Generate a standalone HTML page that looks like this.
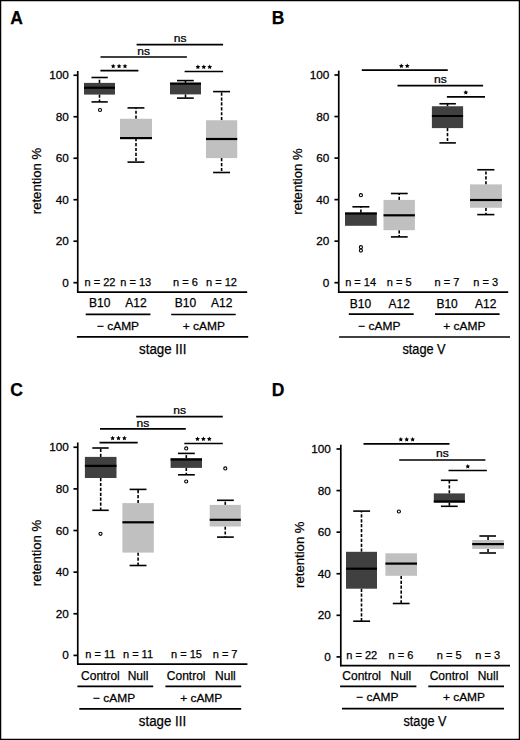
<!DOCTYPE html>
<html><head><meta charset="utf-8"><style>
html,body{margin:0;padding:0;background:#fff;}
svg{display:block;}
</style></head><body>
<svg width="520" height="740" viewBox="0 0 520 740" font-family='"Liberation Sans", sans-serif' fill="#000" stroke="#000">
<rect x="0" y="0" width="520" height="740" fill="#fff" stroke="none"/>
<g stroke="#000" fill="#000">
<g stroke="none">
</g>
<text stroke="#000" stroke-width="0.25" x="10.30" y="23.80" font-size="17.5" font-weight="bold">A</text>
<line x1="77.75" y1="71.00" x2="77.75" y2="292.75" stroke-width="1.7"/>
<line x1="73.45" y1="282.70" x2="77.75" y2="282.70" stroke-width="1.7"/>
<text stroke="#000" stroke-width="0.25" transform="translate(68.80,286.70) scale(1.07,1)" font-size="11" text-anchor="end">0</text>
<line x1="73.45" y1="241.21" x2="77.75" y2="241.21" stroke-width="1.7"/>
<text stroke="#000" stroke-width="0.25" transform="translate(68.80,245.21) scale(1.07,1)" font-size="11" text-anchor="end">20</text>
<line x1="73.45" y1="199.72" x2="77.75" y2="199.72" stroke-width="1.7"/>
<text stroke="#000" stroke-width="0.25" transform="translate(68.80,203.72) scale(1.07,1)" font-size="11" text-anchor="end">40</text>
<line x1="73.45" y1="158.23" x2="77.75" y2="158.23" stroke-width="1.7"/>
<text stroke="#000" stroke-width="0.25" transform="translate(68.80,162.23) scale(1.07,1)" font-size="11" text-anchor="end">60</text>
<line x1="73.45" y1="116.74" x2="77.75" y2="116.74" stroke-width="1.7"/>
<text stroke="#000" stroke-width="0.25" transform="translate(68.80,120.74) scale(1.07,1)" font-size="11" text-anchor="end">80</text>
<line x1="73.45" y1="75.25" x2="77.75" y2="75.25" stroke-width="1.7"/>
<text stroke="#000" stroke-width="0.25" transform="translate(68.80,79.25) scale(1.07,1)" font-size="11" text-anchor="end">100</text>
<text stroke="#000" stroke-width="0.25" transform="translate(40.80,181.00) rotate(-90)" font-size="13" text-anchor="middle" textLength="66.5" lengthAdjust="spacingAndGlyphs">retention %</text>
<line x1="77.00" y1="292.20" x2="247.20" y2="292.20" stroke-width="1.7"/>
<line x1="99.50" y1="82.90" x2="99.50" y2="77.50" stroke-width="1.6" stroke-dasharray="3.2 1.7"/>
<line x1="99.50" y1="94.60" x2="99.50" y2="101.90" stroke-width="1.6" stroke-dasharray="3.2 1.7"/>
<rect x="84.00" y="82.90" width="31.00" height="11.70" fill="#404040" stroke="none"/>
<line x1="84.00" y1="87.75" x2="115.00" y2="87.75" stroke-width="2.2"/>
<line x1="91.50" y1="77.50" x2="107.75" y2="77.50" stroke-width="1.6"/>
<line x1="91.50" y1="101.90" x2="107.75" y2="101.90" stroke-width="1.6"/>
<circle cx="100.00" cy="110.00" r="1.55" fill="none" stroke-width="1.1"/>
<line x1="136.00" y1="118.75" x2="136.00" y2="107.90" stroke-width="1.6" stroke-dasharray="3.2 1.7"/>
<line x1="136.00" y1="138.10" x2="136.00" y2="162.10" stroke-width="1.6" stroke-dasharray="3.2 1.7"/>
<rect x="120.00" y="118.75" width="32.00" height="19.35" fill="#c0c0c0" stroke="none"/>
<line x1="120.00" y1="138.10" x2="152.00" y2="138.10" stroke-width="2.2"/>
<line x1="127.50" y1="107.90" x2="144.40" y2="107.90" stroke-width="1.6"/>
<line x1="127.50" y1="162.10" x2="144.40" y2="162.10" stroke-width="1.6"/>
<line x1="185.50" y1="82.90" x2="185.50" y2="80.60" stroke-width="1.6" stroke-dasharray="3.2 1.7"/>
<line x1="185.50" y1="94.40" x2="185.50" y2="98.10" stroke-width="1.6" stroke-dasharray="3.2 1.7"/>
<rect x="170.00" y="82.90" width="31.00" height="11.50" fill="#404040" stroke="none"/>
<line x1="170.00" y1="83.60" x2="201.00" y2="83.60" stroke-width="2.2"/>
<line x1="177.00" y1="80.60" x2="193.75" y2="80.60" stroke-width="1.6"/>
<line x1="177.00" y1="98.10" x2="193.75" y2="98.10" stroke-width="1.6"/>
<line x1="221.62" y1="120.25" x2="221.62" y2="91.60" stroke-width="1.6" stroke-dasharray="3.2 1.7"/>
<line x1="221.62" y1="158.10" x2="221.62" y2="172.50" stroke-width="1.6" stroke-dasharray="3.2 1.7"/>
<rect x="206.00" y="120.25" width="31.25" height="37.85" fill="#c0c0c0" stroke="none"/>
<line x1="206.00" y1="139.00" x2="237.25" y2="139.00" stroke-width="2.2"/>
<line x1="213.10" y1="91.60" x2="230.00" y2="91.60" stroke-width="1.6"/>
<line x1="213.10" y1="172.50" x2="230.00" y2="172.50" stroke-width="1.6"/>
<line x1="100.40" y1="70.70" x2="138.40" y2="70.70" stroke-width="1.7"/>
<polygon points="113.20,63.70 113.93,65.19 115.58,65.43 114.39,66.59 114.67,68.22 113.20,67.45 111.73,68.22 112.01,66.59 110.82,65.43 112.47,65.19" fill="#000" stroke="none"/>
<polygon points="119.10,63.70 119.83,65.19 121.48,65.43 120.29,66.59 120.57,68.22 119.10,67.45 117.63,68.22 117.91,66.59 116.72,65.43 118.37,65.19" fill="#000" stroke="none"/>
<polygon points="125.00,63.70 125.73,65.19 127.38,65.43 126.19,66.59 126.47,68.22 125.00,67.45 123.53,68.22 123.81,66.59 122.62,65.43 124.27,65.19" fill="#000" stroke="none"/>
<line x1="184.60" y1="71.50" x2="223.10" y2="71.50" stroke-width="1.7"/>
<polygon points="197.90,64.50 198.63,65.99 200.28,66.23 199.09,67.39 199.37,69.02 197.90,68.25 196.43,69.02 196.71,67.39 195.52,66.23 197.17,65.99" fill="#000" stroke="none"/>
<polygon points="203.80,64.50 204.53,65.99 206.18,66.23 204.99,67.39 205.27,69.02 203.80,68.25 202.33,69.02 202.61,67.39 201.42,66.23 203.07,65.99" fill="#000" stroke="none"/>
<polygon points="209.70,64.50 210.43,65.99 212.08,66.23 210.89,67.39 211.17,69.02 209.70,68.25 208.23,69.02 208.51,67.39 207.32,66.23 208.97,65.99" fill="#000" stroke="none"/>
<line x1="100.50" y1="57.00" x2="186.90" y2="57.00" stroke-width="1.7"/>
<text stroke="#000" stroke-width="0.25" transform="translate(143.70,55.00) scale(1.1,1)" font-size="11" text-anchor="middle">ns</text>
<line x1="136.60" y1="44.70" x2="223.10" y2="44.70" stroke-width="1.7"/>
<text stroke="#000" stroke-width="0.25" transform="translate(180.20,42.20) scale(1.1,1)" font-size="11" text-anchor="middle">ns</text>
<text stroke="#000" stroke-width="0.25" x="100.00" y="286.00" font-size="11" text-anchor="middle">n = 22</text>
<text stroke="#000" stroke-width="0.25" x="135.70" y="286.00" font-size="11" text-anchor="middle">n = 13</text>
<text stroke="#000" stroke-width="0.25" x="185.50" y="286.00" font-size="11" text-anchor="middle">n = 6</text>
<text stroke="#000" stroke-width="0.25" x="221.50" y="286.00" font-size="11" text-anchor="middle">n = 12</text>
<text stroke="#000" stroke-width="0.25" x="99.65" y="307.20" font-size="12" text-anchor="middle">B10</text>
<text stroke="#000" stroke-width="0.25" x="136.00" y="307.20" font-size="12" text-anchor="middle">A12</text>
<text stroke="#000" stroke-width="0.25" x="185.50" y="307.20" font-size="12" text-anchor="middle">B10</text>
<text stroke="#000" stroke-width="0.25" x="221.75" y="307.20" font-size="12" text-anchor="middle">A12</text>
<line x1="85.70" y1="314.30" x2="150.40" y2="314.30" stroke-width="1.7"/>
<line x1="171.20" y1="314.50" x2="235.70" y2="314.50" stroke-width="1.7"/>
<text stroke="#000" stroke-width="0.25" transform="translate(118.00,329.70) scale(1.04,1)" font-size="11.5" text-anchor="middle">− cAMP</text>
<text stroke="#000" stroke-width="0.25" transform="translate(203.80,329.70) scale(1.04,1)" font-size="11.5" text-anchor="middle">+ cAMP</text>
<line x1="76.90" y1="336.90" x2="248.20" y2="336.90" stroke-width="1.7"/>
<text stroke="#000" stroke-width="0.25" x="162.75" y="353.80" font-size="14" text-anchor="middle" textLength="47.50" lengthAdjust="spacingAndGlyphs">stage III</text>
<text stroke="#000" stroke-width="0.25" x="271.80" y="23.80" font-size="17.5" font-weight="bold">B</text>
<line x1="338.75" y1="70.60" x2="338.75" y2="292.95" stroke-width="1.7"/>
<line x1="334.45" y1="282.70" x2="338.75" y2="282.70" stroke-width="1.7"/>
<text stroke="#000" stroke-width="0.25" transform="translate(329.40,286.70) scale(1.07,1)" font-size="11" text-anchor="end">0</text>
<line x1="334.45" y1="241.16" x2="338.75" y2="241.16" stroke-width="1.7"/>
<text stroke="#000" stroke-width="0.25" transform="translate(329.40,245.16) scale(1.07,1)" font-size="11" text-anchor="end">20</text>
<line x1="334.45" y1="199.62" x2="338.75" y2="199.62" stroke-width="1.7"/>
<text stroke="#000" stroke-width="0.25" transform="translate(329.40,203.62) scale(1.07,1)" font-size="11" text-anchor="end">40</text>
<line x1="334.45" y1="158.08" x2="338.75" y2="158.08" stroke-width="1.7"/>
<text stroke="#000" stroke-width="0.25" transform="translate(329.40,162.08) scale(1.07,1)" font-size="11" text-anchor="end">60</text>
<line x1="334.45" y1="116.54" x2="338.75" y2="116.54" stroke-width="1.7"/>
<text stroke="#000" stroke-width="0.25" transform="translate(329.40,120.54) scale(1.07,1)" font-size="11" text-anchor="end">80</text>
<line x1="334.45" y1="75.00" x2="338.75" y2="75.00" stroke-width="1.7"/>
<text stroke="#000" stroke-width="0.25" transform="translate(329.40,79.00) scale(1.07,1)" font-size="11" text-anchor="end">100</text>
<text stroke="#000" stroke-width="0.25" transform="translate(301.80,181.50) rotate(-90)" font-size="13" text-anchor="middle" textLength="66.5" lengthAdjust="spacingAndGlyphs">retention %</text>
<line x1="338.00" y1="292.20" x2="508.20" y2="292.20" stroke-width="1.7"/>
<line x1="360.90" y1="212.70" x2="360.90" y2="206.80" stroke-width="1.6" stroke-dasharray="3.2 1.7"/>
<rect x="345.00" y="212.70" width="31.80" height="13.10" fill="#404040" stroke="none"/>
<line x1="345.00" y1="213.50" x2="376.80" y2="213.50" stroke-width="2.2"/>
<line x1="352.40" y1="206.80" x2="369.40" y2="206.80" stroke-width="1.6"/>
<circle cx="360.90" cy="195.20" r="1.55" fill="none" stroke-width="1.1"/>
<circle cx="360.90" cy="247.20" r="1.55" fill="none" stroke-width="1.1"/>
<circle cx="360.90" cy="250.60" r="1.55" fill="none" stroke-width="1.1"/>
<line x1="399.20" y1="199.90" x2="399.20" y2="193.50" stroke-width="1.6" stroke-dasharray="3.2 1.7"/>
<line x1="399.20" y1="230.20" x2="399.20" y2="236.90" stroke-width="1.6" stroke-dasharray="3.2 1.7"/>
<rect x="383.50" y="199.90" width="31.40" height="30.30" fill="#c0c0c0" stroke="none"/>
<line x1="383.50" y1="215.30" x2="414.90" y2="215.30" stroke-width="2.2"/>
<line x1="390.90" y1="193.50" x2="407.70" y2="193.50" stroke-width="1.6"/>
<line x1="390.90" y1="236.90" x2="407.70" y2="236.90" stroke-width="1.6"/>
<line x1="447.50" y1="106.25" x2="447.50" y2="103.75" stroke-width="1.6" stroke-dasharray="3.2 1.7"/>
<line x1="447.50" y1="128.10" x2="447.50" y2="142.90" stroke-width="1.6" stroke-dasharray="3.2 1.7"/>
<rect x="431.90" y="106.25" width="31.20" height="21.85" fill="#404040" stroke="none"/>
<line x1="431.90" y1="116.00" x2="463.10" y2="116.00" stroke-width="2.2"/>
<line x1="439.40" y1="103.75" x2="455.90" y2="103.75" stroke-width="1.6"/>
<line x1="439.40" y1="142.90" x2="455.90" y2="142.90" stroke-width="1.6"/>
<line x1="485.95" y1="184.40" x2="485.95" y2="169.75" stroke-width="1.6" stroke-dasharray="3.2 1.7"/>
<line x1="485.95" y1="207.75" x2="485.95" y2="214.60" stroke-width="1.6" stroke-dasharray="3.2 1.7"/>
<rect x="470.00" y="184.40" width="31.90" height="23.35" fill="#c0c0c0" stroke="none"/>
<line x1="470.00" y1="200.00" x2="501.90" y2="200.00" stroke-width="2.2"/>
<line x1="477.25" y1="169.75" x2="494.40" y2="169.75" stroke-width="1.6"/>
<line x1="477.25" y1="214.60" x2="494.40" y2="214.60" stroke-width="1.6"/>
<line x1="361.75" y1="70.20" x2="447.75" y2="70.20" stroke-width="1.7"/>
<polygon points="401.35,63.50 402.08,64.99 403.73,65.23 402.54,66.39 402.82,68.02 401.35,67.25 399.88,68.02 400.16,66.39 398.97,65.23 400.62,64.99" fill="#000" stroke="none"/>
<polygon points="407.25,63.50 407.98,64.99 409.63,65.23 408.44,66.39 408.72,68.02 407.25,67.25 405.78,68.02 406.06,66.39 404.87,65.23 406.52,64.99" fill="#000" stroke="none"/>
<line x1="397.50" y1="85.70" x2="483.10" y2="85.70" stroke-width="1.7"/>
<text stroke="#000" stroke-width="0.25" transform="translate(440.50,83.10) scale(1.1,1)" font-size="11" text-anchor="middle">ns</text>
<line x1="446.90" y1="96.80" x2="485.00" y2="96.80" stroke-width="1.7"/>
<polygon points="465.80,90.10 466.53,91.59 468.18,91.83 466.99,92.99 467.27,94.62 465.80,93.85 464.33,94.62 464.61,92.99 463.42,91.83 465.07,91.59" fill="#000" stroke="none"/>
<text stroke="#000" stroke-width="0.25" x="360.60" y="285.60" font-size="11" text-anchor="middle">n = 14</text>
<text stroke="#000" stroke-width="0.25" x="399.20" y="285.60" font-size="11" text-anchor="middle">n = 5</text>
<text stroke="#000" stroke-width="0.25" x="446.90" y="285.60" font-size="11" text-anchor="middle">n = 7</text>
<text stroke="#000" stroke-width="0.25" x="485.70" y="285.60" font-size="11" text-anchor="middle">n = 3</text>
<text stroke="#000" stroke-width="0.25" x="360.40" y="307.60" font-size="12" text-anchor="middle">B10</text>
<text stroke="#000" stroke-width="0.25" x="399.20" y="307.60" font-size="12" text-anchor="middle">A12</text>
<text stroke="#000" stroke-width="0.25" x="447.10" y="307.60" font-size="12" text-anchor="middle">B10</text>
<text stroke="#000" stroke-width="0.25" x="485.70" y="307.60" font-size="12" text-anchor="middle">A12</text>
<line x1="348.80" y1="314.20" x2="413.70" y2="314.20" stroke-width="1.7"/>
<line x1="435.00" y1="314.20" x2="499.60" y2="314.20" stroke-width="1.7"/>
<text stroke="#000" stroke-width="0.25" transform="translate(379.35,329.50) scale(1.04,1)" font-size="11.5" text-anchor="middle">− cAMP</text>
<text stroke="#000" stroke-width="0.25" transform="translate(464.30,329.50) scale(1.04,1)" font-size="11.5" text-anchor="middle">+ cAMP</text>
<line x1="339.10" y1="337.00" x2="510.00" y2="337.00" stroke-width="1.7"/>
<text stroke="#000" stroke-width="0.25" x="424.00" y="353.80" font-size="14" text-anchor="middle" textLength="43.20" lengthAdjust="spacingAndGlyphs">stage V</text>
<text stroke="#000" stroke-width="0.25" x="10.30" y="396.00" font-size="17.5" font-weight="bold">C</text>
<line x1="77.75" y1="442.50" x2="77.75" y2="664.35" stroke-width="1.7"/>
<line x1="73.45" y1="655.40" x2="77.75" y2="655.40" stroke-width="1.7"/>
<text stroke="#000" stroke-width="0.25" transform="translate(68.80,659.40) scale(1.07,1)" font-size="11" text-anchor="end">0</text>
<line x1="73.45" y1="613.77" x2="77.75" y2="613.77" stroke-width="1.7"/>
<text stroke="#000" stroke-width="0.25" transform="translate(68.80,617.77) scale(1.07,1)" font-size="11" text-anchor="end">20</text>
<line x1="73.45" y1="572.14" x2="77.75" y2="572.14" stroke-width="1.7"/>
<text stroke="#000" stroke-width="0.25" transform="translate(68.80,576.14) scale(1.07,1)" font-size="11" text-anchor="end">40</text>
<line x1="73.45" y1="530.51" x2="77.75" y2="530.51" stroke-width="1.7"/>
<text stroke="#000" stroke-width="0.25" transform="translate(68.80,534.51) scale(1.07,1)" font-size="11" text-anchor="end">60</text>
<line x1="73.45" y1="488.88" x2="77.75" y2="488.88" stroke-width="1.7"/>
<text stroke="#000" stroke-width="0.25" transform="translate(68.80,492.88) scale(1.07,1)" font-size="11" text-anchor="end">80</text>
<line x1="73.45" y1="447.25" x2="77.75" y2="447.25" stroke-width="1.7"/>
<text stroke="#000" stroke-width="0.25" transform="translate(68.80,451.25) scale(1.07,1)" font-size="11" text-anchor="end">100</text>
<text stroke="#000" stroke-width="0.25" transform="translate(40.80,553.00) rotate(-90)" font-size="13" text-anchor="middle" textLength="66.5" lengthAdjust="spacingAndGlyphs">retention %</text>
<line x1="77.00" y1="664.10" x2="247.40" y2="664.10" stroke-width="1.7"/>
<line x1="100.70" y1="456.90" x2="100.70" y2="448.00" stroke-width="1.6" stroke-dasharray="3.2 1.7"/>
<line x1="100.70" y1="478.00" x2="100.70" y2="510.30" stroke-width="1.6" stroke-dasharray="3.2 1.7"/>
<rect x="84.90" y="456.90" width="31.60" height="21.10" fill="#404040" stroke="none"/>
<line x1="84.90" y1="465.80" x2="116.50" y2="465.80" stroke-width="2.2"/>
<line x1="92.30" y1="448.00" x2="108.70" y2="448.00" stroke-width="1.6"/>
<line x1="92.30" y1="510.30" x2="108.70" y2="510.30" stroke-width="1.6"/>
<circle cx="100.50" cy="533.80" r="1.55" fill="none" stroke-width="1.1"/>
<line x1="138.10" y1="503.10" x2="138.10" y2="489.40" stroke-width="1.6" stroke-dasharray="3.2 1.7"/>
<line x1="138.10" y1="552.60" x2="138.10" y2="565.50" stroke-width="1.6" stroke-dasharray="3.2 1.7"/>
<rect x="122.40" y="503.10" width="31.40" height="49.50" fill="#c0c0c0" stroke="none"/>
<line x1="122.40" y1="522.30" x2="153.80" y2="522.30" stroke-width="2.2"/>
<line x1="129.60" y1="489.40" x2="146.50" y2="489.40" stroke-width="1.6"/>
<line x1="129.60" y1="565.50" x2="146.50" y2="565.50" stroke-width="1.6"/>
<line x1="186.30" y1="458.30" x2="186.30" y2="453.40" stroke-width="1.6" stroke-dasharray="3.2 1.7"/>
<line x1="186.30" y1="467.90" x2="186.30" y2="474.80" stroke-width="1.6" stroke-dasharray="3.2 1.7"/>
<rect x="170.60" y="458.30" width="31.40" height="9.60" fill="#404040" stroke="none"/>
<line x1="170.60" y1="459.50" x2="202.00" y2="459.50" stroke-width="2.2"/>
<line x1="178.00" y1="453.40" x2="194.80" y2="453.40" stroke-width="1.6"/>
<line x1="178.00" y1="474.80" x2="194.80" y2="474.80" stroke-width="1.6"/>
<circle cx="186.20" cy="448.40" r="1.55" fill="none" stroke-width="1.1"/>
<circle cx="186.20" cy="481.50" r="1.55" fill="none" stroke-width="1.1"/>
<line x1="225.25" y1="504.90" x2="225.25" y2="500.30" stroke-width="1.6" stroke-dasharray="3.2 1.7"/>
<line x1="225.25" y1="526.50" x2="225.25" y2="537.10" stroke-width="1.6" stroke-dasharray="3.2 1.7"/>
<rect x="209.70" y="504.90" width="31.10" height="21.60" fill="#c0c0c0" stroke="none"/>
<line x1="209.70" y1="519.80" x2="240.80" y2="519.80" stroke-width="2.2"/>
<line x1="217.00" y1="500.30" x2="233.80" y2="500.30" stroke-width="1.6"/>
<line x1="217.00" y1="537.10" x2="233.80" y2="537.10" stroke-width="1.6"/>
<circle cx="225.30" cy="468.40" r="1.55" fill="none" stroke-width="1.1"/>
<line x1="99.50" y1="442.60" x2="137.70" y2="442.60" stroke-width="1.7"/>
<polygon points="112.60,435.70 113.33,437.19 114.98,437.43 113.79,438.59 114.07,440.22 112.60,439.45 111.13,440.22 111.41,438.59 110.22,437.43 111.87,437.19" fill="#000" stroke="none"/>
<polygon points="118.50,435.70 119.23,437.19 120.88,437.43 119.69,438.59 119.97,440.22 118.50,439.45 117.03,440.22 117.31,438.59 116.12,437.43 117.77,437.19" fill="#000" stroke="none"/>
<polygon points="124.40,435.70 125.13,437.19 126.78,437.43 125.59,438.59 125.87,440.22 124.40,439.45 122.93,440.22 123.21,438.59 122.02,437.43 123.67,437.19" fill="#000" stroke="none"/>
<line x1="184.30" y1="443.50" x2="222.80" y2="443.50" stroke-width="1.7"/>
<polygon points="197.50,436.50 198.23,437.99 199.88,438.23 198.69,439.39 198.97,441.02 197.50,440.25 196.03,441.02 196.31,439.39 195.12,438.23 196.77,437.99" fill="#000" stroke="none"/>
<polygon points="203.40,436.50 204.13,437.99 205.78,438.23 204.59,439.39 204.87,441.02 203.40,440.25 201.93,441.02 202.21,439.39 201.02,438.23 202.67,437.99" fill="#000" stroke="none"/>
<polygon points="209.30,436.50 210.03,437.99 211.68,438.23 210.49,439.39 210.77,441.02 209.30,440.25 207.83,441.02 208.11,439.39 206.92,438.23 208.57,437.99" fill="#000" stroke="none"/>
<line x1="100.00" y1="428.80" x2="185.80" y2="428.80" stroke-width="1.7"/>
<text stroke="#000" stroke-width="0.25" transform="translate(143.00,426.50) scale(1.1,1)" font-size="11" text-anchor="middle">ns</text>
<line x1="136.20" y1="416.60" x2="222.80" y2="416.60" stroke-width="1.7"/>
<text stroke="#000" stroke-width="0.25" transform="translate(179.60,414.20) scale(1.1,1)" font-size="11" text-anchor="middle">ns</text>
<text stroke="#000" stroke-width="0.25" x="100.40" y="658.00" font-size="11" text-anchor="middle">n = 11</text>
<text stroke="#000" stroke-width="0.25" x="138.00" y="658.00" font-size="11" text-anchor="middle">n = 11</text>
<text stroke="#000" stroke-width="0.25" x="186.50" y="658.00" font-size="11" text-anchor="middle">n = 15</text>
<text stroke="#000" stroke-width="0.25" x="225.10" y="658.00" font-size="11" text-anchor="middle">n = 7</text>
<text stroke="#000" stroke-width="0.25" x="100.40" y="679.70" font-size="12" text-anchor="middle">Control</text>
<text stroke="#000" stroke-width="0.25" x="138.00" y="679.70" font-size="12" text-anchor="middle">Null</text>
<text stroke="#000" stroke-width="0.25" x="186.20" y="679.70" font-size="12" text-anchor="middle">Control</text>
<text stroke="#000" stroke-width="0.25" x="225.40" y="679.70" font-size="12" text-anchor="middle">Null</text>
<line x1="77.40" y1="686.40" x2="153.20" y2="686.40" stroke-width="1.7"/>
<line x1="165.40" y1="686.40" x2="241.20" y2="686.40" stroke-width="1.7"/>
<text stroke="#000" stroke-width="0.25" transform="translate(114.15,701.70) scale(1.04,1)" font-size="11.5" text-anchor="middle">− cAMP</text>
<text stroke="#000" stroke-width="0.25" transform="translate(201.20,701.80) scale(1.04,1)" font-size="11.5" text-anchor="middle">+ cAMP</text>
<line x1="79.30" y1="708.90" x2="241.20" y2="708.90" stroke-width="1.7"/>
<text stroke="#000" stroke-width="0.25" x="162.50" y="726.00" font-size="14" text-anchor="middle" textLength="47.30" lengthAdjust="spacingAndGlyphs">stage III</text>
<text stroke="#000" stroke-width="0.25" x="271.80" y="396.00" font-size="17.5" font-weight="bold">D</text>
<line x1="340.80" y1="444.70" x2="340.80" y2="666.25" stroke-width="1.7"/>
<line x1="336.50" y1="656.90" x2="340.80" y2="656.90" stroke-width="1.7"/>
<text stroke="#000" stroke-width="0.25" transform="translate(330.90,660.90) scale(1.07,1)" font-size="11" text-anchor="end">0</text>
<line x1="336.50" y1="615.32" x2="340.80" y2="615.32" stroke-width="1.7"/>
<text stroke="#000" stroke-width="0.25" transform="translate(330.90,619.32) scale(1.07,1)" font-size="11" text-anchor="end">20</text>
<line x1="336.50" y1="573.74" x2="340.80" y2="573.74" stroke-width="1.7"/>
<text stroke="#000" stroke-width="0.25" transform="translate(330.90,577.74) scale(1.07,1)" font-size="11" text-anchor="end">40</text>
<line x1="336.50" y1="532.16" x2="340.80" y2="532.16" stroke-width="1.7"/>
<text stroke="#000" stroke-width="0.25" transform="translate(330.90,536.16) scale(1.07,1)" font-size="11" text-anchor="end">60</text>
<line x1="336.50" y1="490.58" x2="340.80" y2="490.58" stroke-width="1.7"/>
<text stroke="#000" stroke-width="0.25" transform="translate(330.90,494.58) scale(1.07,1)" font-size="11" text-anchor="end">80</text>
<line x1="336.50" y1="449.00" x2="340.80" y2="449.00" stroke-width="1.7"/>
<text stroke="#000" stroke-width="0.25" transform="translate(330.90,453.00) scale(1.07,1)" font-size="11" text-anchor="end">100</text>
<text stroke="#000" stroke-width="0.25" transform="translate(303.80,554.70) rotate(-90)" font-size="13" text-anchor="middle" textLength="66.5" lengthAdjust="spacingAndGlyphs">retention %</text>
<line x1="340.00" y1="665.70" x2="510.00" y2="665.70" stroke-width="1.7"/>
<line x1="361.50" y1="551.80" x2="361.50" y2="511.10" stroke-width="1.6" stroke-dasharray="3.2 1.7"/>
<line x1="361.50" y1="588.70" x2="361.50" y2="621.20" stroke-width="1.6" stroke-dasharray="3.2 1.7"/>
<rect x="346.00" y="551.80" width="31.00" height="36.90" fill="#404040" stroke="none"/>
<line x1="346.00" y1="568.70" x2="377.00" y2="568.70" stroke-width="2.2"/>
<line x1="353.20" y1="511.10" x2="370.10" y2="511.10" stroke-width="1.6"/>
<line x1="353.20" y1="621.20" x2="370.10" y2="621.20" stroke-width="1.6"/>
<line x1="401.20" y1="575.80" x2="401.20" y2="603.50" stroke-width="1.6" stroke-dasharray="3.2 1.7"/>
<rect x="385.40" y="553.30" width="31.60" height="22.50" fill="#c0c0c0" stroke="none"/>
<line x1="385.40" y1="563.60" x2="417.00" y2="563.60" stroke-width="2.2"/>
<line x1="392.80" y1="603.50" x2="409.60" y2="603.50" stroke-width="1.6"/>
<circle cx="398.90" cy="511.50" r="1.55" fill="none" stroke-width="1.1"/>
<line x1="449.35" y1="493.40" x2="449.35" y2="480.30" stroke-width="1.6" stroke-dasharray="3.2 1.7"/>
<line x1="449.35" y1="502.50" x2="449.35" y2="506.30" stroke-width="1.6" stroke-dasharray="3.2 1.7"/>
<rect x="433.80" y="493.40" width="31.10" height="9.10" fill="#404040" stroke="none"/>
<line x1="433.80" y1="501.50" x2="464.90" y2="501.50" stroke-width="2.2"/>
<line x1="440.90" y1="480.30" x2="457.70" y2="480.30" stroke-width="1.6"/>
<line x1="440.90" y1="506.30" x2="457.70" y2="506.30" stroke-width="1.6"/>
<line x1="488.05" y1="540.00" x2="488.05" y2="536.00" stroke-width="1.6" stroke-dasharray="3.2 1.7"/>
<line x1="488.05" y1="548.90" x2="488.05" y2="553.00" stroke-width="1.6" stroke-dasharray="3.2 1.7"/>
<rect x="472.20" y="540.00" width="31.70" height="8.90" fill="#c0c0c0" stroke="none"/>
<line x1="472.20" y1="544.10" x2="503.90" y2="544.10" stroke-width="2.2"/>
<line x1="479.40" y1="536.00" x2="496.00" y2="536.00" stroke-width="1.6"/>
<line x1="479.40" y1="553.00" x2="496.00" y2="553.00" stroke-width="1.6"/>
<line x1="363.50" y1="443.80" x2="449.50" y2="443.80" stroke-width="1.7"/>
<polygon points="400.80,436.90 401.53,438.39 403.18,438.63 401.99,439.79 402.27,441.42 400.80,440.65 399.33,441.42 399.61,439.79 398.42,438.63 400.07,438.39" fill="#000" stroke="none"/>
<polygon points="406.70,436.90 407.43,438.39 409.08,438.63 407.89,439.79 408.17,441.42 406.70,440.65 405.23,441.42 405.51,439.79 404.32,438.63 405.97,438.39" fill="#000" stroke="none"/>
<polygon points="412.60,436.90 413.33,438.39 414.98,438.63 413.79,439.79 414.07,441.42 412.60,440.65 411.13,441.42 411.41,439.79 410.22,438.63 411.87,438.39" fill="#000" stroke="none"/>
<line x1="399.20" y1="460.00" x2="485.40" y2="460.00" stroke-width="1.7"/>
<text stroke="#000" stroke-width="0.25" transform="translate(442.30,456.90) scale(1.1,1)" font-size="11" text-anchor="middle">ns</text>
<line x1="448.50" y1="470.50" x2="486.90" y2="470.50" stroke-width="1.7"/>
<polygon points="467.80,463.90 468.53,465.39 470.18,465.63 468.99,466.79 469.27,468.42 467.80,467.65 466.33,468.42 466.61,466.79 465.42,465.63 467.07,465.39" fill="#000" stroke="none"/>
<text stroke="#000" stroke-width="0.25" x="361.70" y="658.90" font-size="11" text-anchor="middle">n = 22</text>
<text stroke="#000" stroke-width="0.25" x="401.00" y="658.90" font-size="11" text-anchor="middle">n = 6</text>
<text stroke="#000" stroke-width="0.25" x="449.20" y="658.90" font-size="11" text-anchor="middle">n = 5</text>
<text stroke="#000" stroke-width="0.25" x="487.70" y="658.90" font-size="11" text-anchor="middle">n = 3</text>
<text stroke="#000" stroke-width="0.25" x="361.70" y="679.70" font-size="12" text-anchor="middle">Control</text>
<text stroke="#000" stroke-width="0.25" x="400.85" y="679.70" font-size="12" text-anchor="middle">Null</text>
<text stroke="#000" stroke-width="0.25" x="449.00" y="679.70" font-size="12" text-anchor="middle">Control</text>
<text stroke="#000" stroke-width="0.25" x="488.00" y="679.70" font-size="12" text-anchor="middle">Null</text>
<line x1="340.10" y1="686.30" x2="416.40" y2="686.30" stroke-width="1.7"/>
<line x1="428.30" y1="686.30" x2="504.00" y2="686.30" stroke-width="1.7"/>
<text stroke="#000" stroke-width="0.25" transform="translate(377.35,701.30) scale(1.04,1)" font-size="11.5" text-anchor="middle">− cAMP</text>
<text stroke="#000" stroke-width="0.25" transform="translate(463.95,701.30) scale(1.04,1)" font-size="11.5" text-anchor="middle">+ cAMP</text>
<line x1="342.00" y1="708.70" x2="504.00" y2="708.70" stroke-width="1.7"/>
<text stroke="#000" stroke-width="0.25" x="425.00" y="726.00" font-size="14" text-anchor="middle" textLength="43.00" lengthAdjust="spacingAndGlyphs">stage V</text>
</g>
<g fill="#000" stroke="none"><rect x="0" y="0" width="520" height="1.25"/><rect x="0" y="738.75" width="520" height="1.25"/><rect x="0" y="0" width="1.25" height="740"/><rect x="518.75" y="0" width="1.25" height="740"/></g>
</svg>
</body></html>
